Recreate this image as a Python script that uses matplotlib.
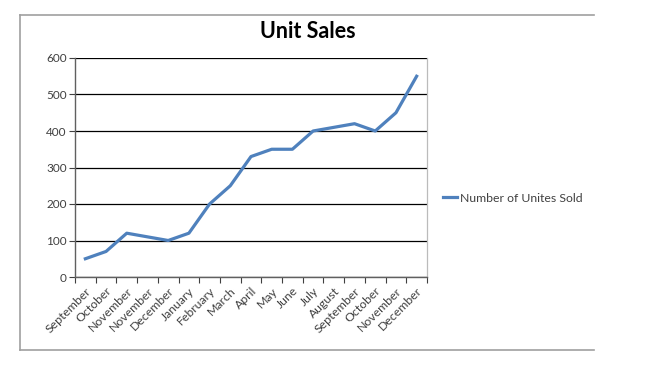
import matplotlib
matplotlib.use("Agg")
import matplotlib.pyplot as plt
from matplotlib.lines import Line2D

months = ["September", "October", "November", "November", "December", "January",
          "February", "March", "April", "May", "June", "July", "August",
          "September", "October", "November", "December"]
units_sold = [50, 70, 120, 110, 100, 120, 200, 250, 330, 350, 350, 400, 410,
              420, 400, 450, 550]
yticks = [0, 100, 200, 300, 400, 500, 600]

plt.rcParams['font.family'] = ['Lato', 'DejaVu Sans']

fig = plt.figure(figsize=(6.46, 3.71), dpi=100)
W, H = 646, 371
ax = fig.add_axes([75 / W, 1 - 277 / H, (427 - 75) / W, (277 - 58) / H])

x = list(range(len(months)))
ax.plot(x, units_sold, color="#4F81BD", linewidth=2.3, solid_joinstyle="round",
        label="Number of Unites Sold", zorder=3)

ax.set_xlim(-0.5, len(months) - 0.5)
ax.set_ylim(0, 600)
ax.set_yticks(yticks)
ax.set_yticklabels([str(v) for v in yticks], fontsize=8.5, color="#404040")
ax.set_xticks(x)
ax.set_xticklabels(months, rotation=45, ha="right", va="top", rotation_mode="anchor",
                   fontsize=8.8, color="#404040")
ax.set_xticks([i - 0.5 for i in range(len(months) + 1)], minor=True)
ax.tick_params(axis="x", which="major", length=0, pad=6)
ax.tick_params(axis="x", which="minor", length=4, width=0.8, color="#404040", direction="out")
ax.tick_params(axis="y", which="major", length=4, width=0.8, color="#404040", pad=2)

ax.grid(axis="y", color="black", linewidth=0.9)
ax.set_axisbelow(True)
for s in ["left", "bottom"]:
    ax.spines[s].set_color("#606060")
    ax.spines[s].set_linewidth(1.0)
ax.spines["right"].set_color("#bbbbbb")
ax.spines["right"].set_linewidth(0.9)
ax.spines["top"].set_visible(False)

fig.text(308 / W, 1 - 31 / H, "Unit Sales", ha="center", va="center",
         fontsize=15.5, fontweight="bold", color="black")

leg = ax.legend(loc="center left", bbox_to_anchor=(437 / W, 1 - 198 / H),
                bbox_transform=fig.transFigure, frameon=False, fontsize=8.8,
                handlelength=1.1, handletextpad=0.25, borderpad=0)
for t in leg.get_texts():
    t.set_color("#404040")

# outer chart border (left, top, bottom)
bc = "#a0a0a0"
fig.add_artist(Line2D([20 / W, 20 / W], [1 - 15 / H, 1 - 350 / H], color=bc, linewidth=1.2,
                      transform=fig.transFigure))
fig.add_artist(Line2D([20 / W, 594 / W], [1 - 15 / H, 1 - 15 / H], color=bc, linewidth=1.2,
                      transform=fig.transFigure))
fig.add_artist(Line2D([20 / W, 594 / W], [1 - 350 / H, 1 - 350 / H], color=bc, linewidth=1.2,
                      transform=fig.transFigure))

fig.savefig("out.png", dpi=100)
